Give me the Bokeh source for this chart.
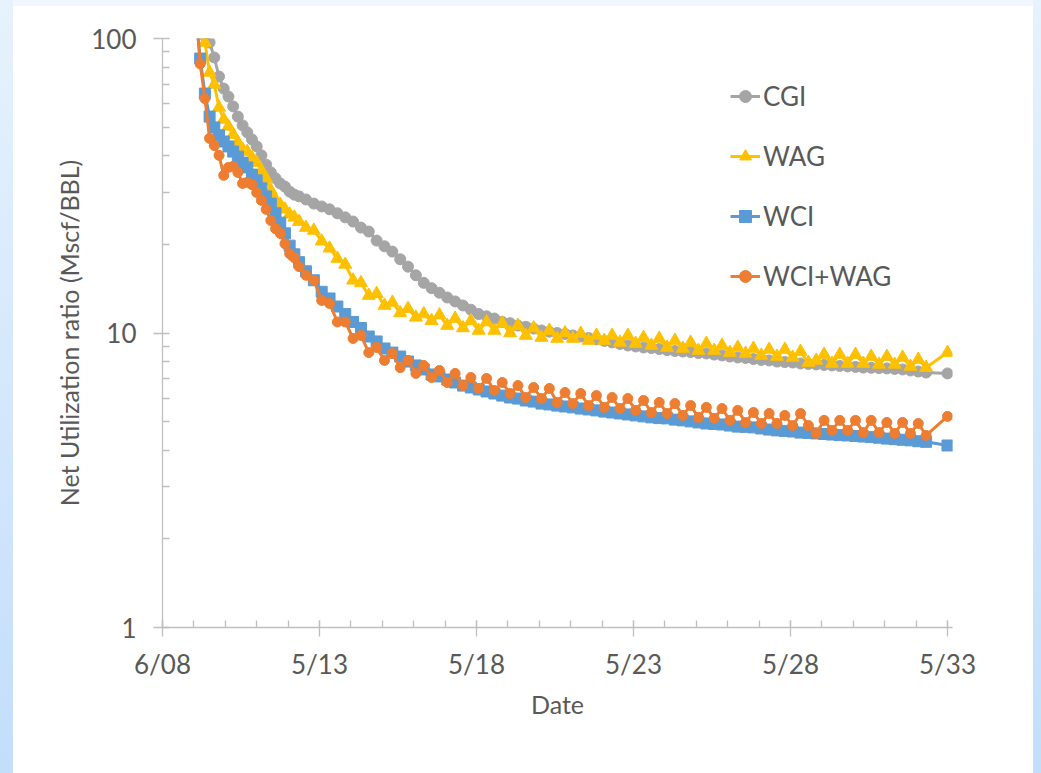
from bokeh.plotting import figure
from bokeh.models import Range1d, FixedTicker, Legend, LegendItem, Div, NumeralTickFormatter
from bokeh.layouts import row, column
from bokeh.embed import file_html
from bokeh.resources import INLINE

# x = years after the first axis date (6/08)
dates = [1.10, 1.20, 1.35, 1.50, 1.65, 1.80, 1.95, 2.10, 2.25, 2.40, 2.55, 2.70,
         2.85, 3.00, 3.15, 3.30, 3.45, 3.60, 3.75, 3.90, 4.05, 4.20, 4.35,
         4.57, 4.82, 5.07, 5.32, 5.57, 5.82, 6.07, 6.32, 6.57, 6.82,
         7.07, 7.32, 7.57, 7.82, 8.07, 8.32, 8.57, 8.82, 9.07, 9.32,
         9.57, 9.82, 10.07, 10.32, 10.57, 10.82, 11.07, 11.32, 11.57, 11.82,
         12.07, 12.32, 12.57, 12.82, 13.07, 13.32, 13.57, 13.82, 14.07, 14.32,
         14.57, 14.82, 15.07, 15.32, 15.57, 15.82, 16.07, 16.32, 16.57, 16.82,
         17.07, 17.32, 17.57, 17.82, 18.07, 18.32, 18.57, 18.82, 19.07, 19.32,
         19.57, 19.82, 20.07, 20.32, 20.57, 20.82, 21.07, 21.32, 21.57, 21.82,
         22.07, 22.32, 22.57, 22.82, 23.07, 23.32, 23.57, 23.82, 24.07, 24.32,
         25.00]

cgi = [160, 135, 102, 96.9, 86.2, 74.3, 67.6, 63.5, 58.8, 54.3, 50.7, 48.0,
       45.4, 43.0, 40.1, 37.3, 35.1, 33.5, 32.2, 31.4, 30.2, 29.5, 29.1,
       28.4, 27.5, 26.9, 26.3, 25.5, 24.7, 23.9, 22.8, 22.1, 20.6,
       19.7, 18.9, 17.8, 16.8, 15.7, 14.8, 14.2, 13.7, 13.2, 12.8,
       12.4, 12.0, 11.6, 11.4, 11.2, 10.9, 10.8, 10.6, 10.5, 10.35,
       10.2, 10.1, 10.0, 9.93, 9.81, 9.73, 9.62, 9.51, 9.40, 9.29,
       9.18, 9.07, 9.00, 8.93, 8.89, 8.82, 8.75, 8.69, 8.65, 8.62,
       8.55, 8.52, 8.45, 8.39, 8.32, 8.26, 8.23, 8.16, 8.10, 8.07,
       8.00, 7.97, 7.94, 7.88, 7.85, 7.82, 7.79, 7.76, 7.73, 7.70,
       7.67, 7.63, 7.62, 7.60, 7.58, 7.55, 7.52, 7.46, 7.40, 7.34,
       7.29]

wag = [150, 125, 96.9, 76.7, 69.8, 58.3, 53.1, 50.3, 47.2, 44.4, 42.0, 41.3,
       39.4, 37.9, 35.6, 33.5, 30.5, 28.4, 27.3, 26.3, 25.3, 24.7, 23.9,
       22.8, 22.3, 20.5, 19.4, 17.9, 17.1, 15.1, 14.8, 13.4, 13.6,
       12.4, 12.7, 11.7, 12.1, 11.3, 11.6, 11.0, 11.5, 10.6, 11.2,
       10.4, 11.0, 10.2, 10.9, 10.2, 10.8, 10.0, 10.6, 9.81, 10.4,
       9.65, 10.2, 9.58, 10.0, 9.58, 9.96, 9.43, 9.81, 9.43, 9.81,
       9.29, 9.81, 9.21, 9.65, 9.07, 9.58, 8.93, 9.43, 8.86, 9.29,
       8.72, 9.21, 8.72, 9.07, 8.58, 8.93, 8.52, 8.86, 8.39, 8.79,
       8.32, 8.79, 8.26, 8.65, 7.94, 8.07, 8.45, 7.88, 8.45, 7.88,
       8.45, 7.88, 8.32, 7.82, 8.32, 7.82, 8.26, 7.70, 8.13, 7.63,
       8.58]

wci = [108, 85.5, 65.0, 54.3, 49.9, 46.9, 44.7, 43.0, 41.3, 39.7, 37.9, 36.5,
       34.5, 33.0, 31.0, 29.1, 27.5, 25.5, 23.7, 21.8, 19.8, 18.5, 17.4,
       16.2, 15.1, 13.8, 13.1, 12.3, 11.6, 10.9, 10.4, 9.73, 9.36,
       8.86, 8.58, 8.32, 8.00, 7.76, 7.52, 7.23, 7.12, 6.95, 6.79,
       6.63, 6.53, 6.43, 6.33, 6.23, 6.13, 6.04, 5.99, 5.90, 5.85,
       5.76, 5.72, 5.67, 5.63, 5.59, 5.54, 5.50, 5.46, 5.41, 5.37,
       5.33, 5.29, 5.25, 5.21, 5.17, 5.14, 5.13, 5.08, 5.05, 5.01,
       4.97, 4.93, 4.91, 4.89, 4.85, 4.81, 4.80, 4.78, 4.74, 4.70,
       4.67, 4.65, 4.63, 4.59, 4.58, 4.56, 4.54, 4.52, 4.50, 4.49,
       4.47, 4.45, 4.43, 4.41, 4.38, 4.36, 4.34, 4.32, 4.29, 4.27,
       4.15]

wci_wag = [115, 82.0, 62.5, 45.8, 43.3, 40.1, 34.3, 36.5, 36.8, 35.1, 32.2, 32.5,
           31.9, 30.0, 28.2, 26.3, 24.1, 22.6, 21.8, 20.1, 18.6, 18.0, 16.8,
           15.7, 15.1, 12.9, 12.6, 10.9, 10.9, 9.58, 9.81, 8.58, 8.93,
           8.07, 8.52, 7.63, 8.07, 7.29, 7.76, 7.06, 7.46, 6.79, 7.29,
           6.63, 7.06, 6.48, 7.01, 6.38, 6.79, 6.23, 6.63, 6.04, 6.53,
           5.99, 6.48, 5.81, 6.28, 5.76, 6.23, 5.67, 6.13, 5.59, 6.04,
           5.54, 5.99, 5.46, 5.90, 5.37, 5.81, 5.33, 5.76, 5.25, 5.67,
           5.17, 5.59, 5.13, 5.54, 5.05, 5.46, 4.97, 5.37, 4.93, 5.33,
           4.93, 5.25, 4.85, 5.33, 4.85, 4.56, 5.05, 4.67, 5.05, 4.67,
           5.05, 4.59, 5.05, 4.59, 4.97, 4.56, 4.97, 4.56, 4.93, 4.49,
           5.21]

x_ticks = [0, 5, 10, 15, 20, 25]
x_tick_labels = ["6/08", "5/13", "5/18", "5/23", "5/28", "5/33"]
y_ticks = [1, 10, 100]

FONT = "Lato"
TXT = "#595959"
AX = "#BFBFBF"

p = figure(width=1020, height=767, y_axis_type="log",
           x_range=Range1d(0, 25.16), y_range=Range1d(1, 100),
           output_backend="svg", toolbar_location=None,
           min_border_left=149, min_border_right=81,
           min_border_top=32, min_border_bottom=146, margin=0)
p.outline_line_color = None
p.grid.visible = False
p.background_fill_color = "white"
p.border_fill_color = "white"

p.xaxis.ticker = FixedTicker(ticks=x_ticks, minor_ticks=list(range(0, 26)))
p.xaxis.major_label_overrides = {t: l for t, l in zip(x_ticks, x_tick_labels)}
minor_y = [v * m for v in (1, 10) for m in range(2, 10)]
p.yaxis.ticker = FixedTicker(ticks=y_ticks, minor_ticks=minor_y)
p.yaxis.formatter = NumeralTickFormatter(format="0")

for ax in (p.xaxis[0], p.yaxis[0]):
    ax.axis_line_color = AX
    ax.axis_line_width = 1.3
    ax.major_tick_line_color = AX
    ax.minor_tick_line_color = AX
    ax.major_tick_line_width = 1.3
    ax.minor_tick_line_width = 1.3
    ax.major_tick_in = 7
    ax.major_tick_out = 9
    ax.minor_tick_in = 7
    ax.minor_tick_out = 0
    ax.major_label_text_font = FONT
    ax.major_label_text_font_size = "26px"
    ax.major_label_text_color = TXT
    ax.axis_label_text_font = FONT
    ax.axis_label_text_font_size = "25px"
    ax.axis_label_text_color = TXT
    ax.axis_label_text_font_style = "normal"

p.xaxis.axis_label = "Date"
p.xaxis.major_label_standoff = 11
p.xaxis.axis_label_standoff = 6
p.yaxis.axis_label = "Net Utilization ratio (Mscf/BBL)"
p.yaxis.major_label_standoff = 17
p.yaxis.axis_label_standoff = 4

series = [
    ("CGI", cgi, "#A5A5A5", "circle", 11),
    ("WAG", wag, "#FFC000", "triangle", 13),
    ("WCI", wci, "#5B9BD5", "square", 11),
    ("WCI+WAG", wci_wag, "#ED7D31", "circle", 10),
]
items = []
for name, vals, col, mk, sz in series:
    lr = p.line(dates, vals, line_color=col, line_width=3)
    sr = p.scatter(dates, vals, marker=mk, size=sz, fill_color=col, line_color=col)
    items.append(LegendItem(label=name, renderers=[lr, sr]))

legend = Legend(items=items, location=(568, 335), orientation="vertical",
                glyph_width=30, glyph_height=30, label_height=30, spacing=28,
                padding=0, margin=0, label_standoff=3,
                label_text_font=FONT, label_text_font_size="26px",
                label_text_color=TXT, background_fill_alpha=0,
                border_line_alpha=0)
p.add_layout(legend, "center")

left = Div(text="", width=13, height=773, margin=0,
           styles={"background": "linear-gradient(to bottom, #e6f2fd, #c2defa)"})
right = Div(text="", width=8, height=773, margin=0,
            styles={"background": "linear-gradient(to bottom, #e6f2fd, #c2defa)"})
top = Div(text="", width=1020, height=6, margin=0, styles={"background": "#f0f7fe"})

layout = row(left, column(top, p, spacing=0, margin=0), right, spacing=0, margin=0)

open("out.html", "w").write(file_html(layout, INLINE))
